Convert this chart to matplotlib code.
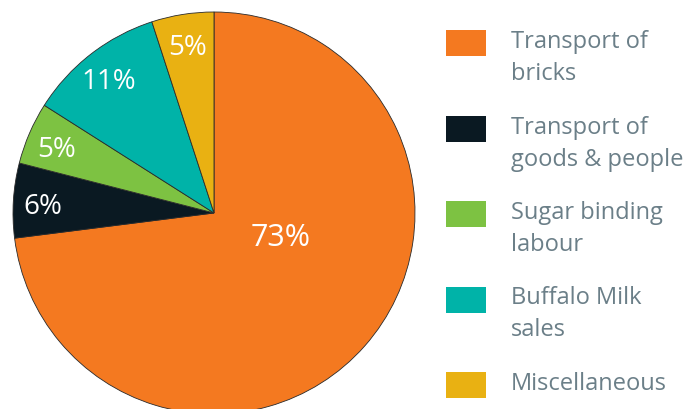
import matplotlib
matplotlib.use("Agg")
import matplotlib.pyplot as plt
from matplotlib.patches import Rectangle
import numpy as np

categories = ["Transport of\nbricks", "Transport of\ngoods & people", "Sugar binding\nlabour",
              "Buffalo Milk\nsales", "Miscellaneous"]
values = [73, 6, 5, 11, 5]
pct_labels = ["73%", "6%", "5%", "11%", "5%"]
colors = ["#F47920", "#0A1922", "#7DC242", "#00B3A8", "#E9B112"]

plt.rcParams['font.family'] = ['Open Sans', 'DejaVu Sans']
W, H = 687, 410
fig = plt.figure(figsize=(W / 100, H / 100), dpi=100)

cx, cy, r = 214, 214, 201
ax = fig.add_axes([(cx - r) / W, (H - cy - r) / H, 2 * r / W, 2 * r / H])
wedges, _ = ax.pie(values, colors=colors, startangle=90, counterclock=False,
                   wedgeprops=dict(edgecolor="#2a2a2a", linewidth=0.6))
ax.set_xlim(-1, 1)
ax.set_ylim(-1, 1)
ax.set_aspect("equal")
ax.axis("off")

for i, (w, lab) in enumerate(zip(wedges, pct_labels)):
    ang = np.deg2rad((w.theta1 + w.theta2) / 2)
    if i == 0:
        x, y = 0.33, -0.12
        fs = 22
    else:
        d = 0.855
        x, y = d * np.cos(ang), d * np.sin(ang) - 0.02
        fs = 20
    ax.text(x, y, lab, color="white", fontsize=fs, ha="center", va="center")

# legend (manual)
text_color = "#6B7F88"
pitch = 85.5
for i, (lab, c) in enumerate(zip(categories, colors)):
    top = 31 + i * pitch
    fig.patches.append(Rectangle((446 / W, 1 - (top + 26) / H), 40 / W, 26 / H,
                                 transform=fig.transFigure, facecolor=c, edgecolor="none"))
    for j, line in enumerate(lab.split("\n")):
        base = top + 17 + j * 32
        fig.text(511 / W, 1 - base / H, line, color=text_color, fontsize=17,
                 ha="left", va="baseline")

fig.savefig("out.png", dpi=100)
